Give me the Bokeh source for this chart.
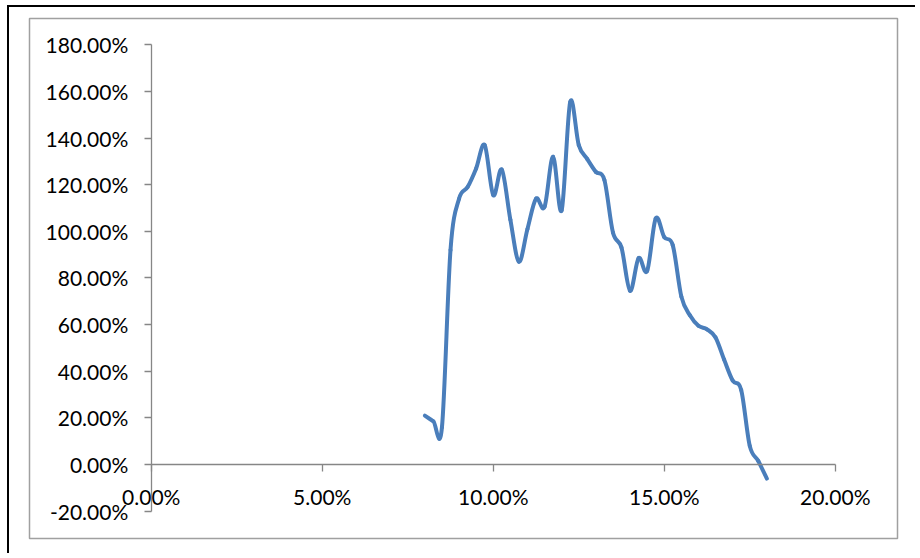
import numpy as np
from bokeh.plotting import figure
from bokeh.models import LinearAxis, Range1d, FixedTicker, PrintfTickFormatter, ColumnDataSource
from bokeh.embed import file_html
from bokeh.resources import INLINE

# Data (percent units)
rate_pct = [8.0, 8.25, 8.5, 8.75, 9.0, 9.25, 9.5, 9.75, 10.0, 10.25,
            10.5, 10.75, 11.0, 11.25, 11.5, 11.75, 12.0, 12.25, 12.5, 12.75,
            13.0, 13.25, 13.5, 13.75, 14.0, 14.25, 14.5, 14.75, 15.0, 15.25,
            15.5, 15.75, 16.0, 16.25, 16.5, 16.75, 17.0, 17.25, 17.5, 17.75, 18.0]
value_pct = [21, 18.5, 16, 92, 114, 119, 127, 137, 115.5, 126.5,
             105, 87, 101, 114, 110.5, 132, 109, 155.5, 137, 131,
             125.5, 122, 99.5, 93, 74.5, 88.5, 83, 105.5, 97.5, 94,
             72, 64, 59.5, 58, 54.5, 45, 36, 32, 8, 1.5, -6]
x_ticks = [0, 5, 10, 15, 20]
y_ticks = [-20, 0, 20, 40, 60, 80, 100, 120, 140, 160, 180]

p = figure(width=908, height=548, output_backend="svg", toolbar_location=None,
           x_range=Range1d(-3.56, 21.82), y_range=Range1d(-31.71, 191.27),
           x_axis_location=None, y_axis_location=None,
           min_border_left=20, min_border_right=20, min_border_top=11, min_border_bottom=17)
for g in p.grid:
    g.visible = False
p.outline_line_color = "#a0a0a0"
p.outline_line_width = 1.5
p.background_fill_color = "white"
p.border_fill_color = "white"
p.styles = {"margin-left": "7px", "margin-top": "5px",
            "border-left": "2px solid #000", "border-top": "2px solid #000"}

def style_axis(ax, standoff):
    ax.axis_line_color = "#868686"
    ax.axis_line_width = 1.3
    ax.major_tick_line_color = "#868686"
    ax.major_tick_line_width = 1.3
    ax.major_tick_out = 7
    ax.major_tick_in = 0
    ax.minor_tick_out = 0
    ax.minor_tick_in = 0
    ax.major_label_text_font = "Lato"
    ax.major_label_text_font_size = "21px"
    ax.major_label_text_color = "#000000"
    ax.major_label_standoff = standoff

fmt = "%.2f%%"
xaxis = LinearAxis(fixed_location=0, bounds=(0, 20), ticker=FixedTicker(ticks=x_ticks),
                   formatter=PrintfTickFormatter(format=fmt))
yaxis = LinearAxis(fixed_location=0, bounds=(-20, 180), ticker=FixedTicker(ticks=y_ticks),
                   formatter=PrintfTickFormatter(format=fmt))
style_axis(xaxis, 12)
style_axis(yaxis, 16)
p.add_layout(xaxis, "below")
p.add_layout(yaxis, "left")

# Smoothed line (Catmull-Rom style bezier segments through the data points)
xs = np.array(rate_pct, dtype=float)
ys = np.array(value_pct, dtype=float)
n = len(xs)
xp = np.concatenate([[xs[0]], xs, [xs[-1]]])
yp = np.concatenate([[ys[0]], ys, [ys[-1]]])
src = ColumnDataSource(dict(
    x0=xs[:-1], y0=ys[:-1], x1=xs[1:], y1=ys[1:],
    cx0=xp[1:n] + (xp[2:n + 1] - xp[0:n - 1]) / 6.0,
    cy0=yp[1:n] + (yp[2:n + 1] - yp[0:n - 1]) / 6.0,
    cx1=xp[2:n + 1] - (xp[3:n + 2] - xp[1:n]) / 6.0,
    cy1=yp[2:n + 1] - (yp[3:n + 2] - yp[1:n]) / 6.0,
))
p.bezier(x0="x0", y0="y0", x1="x1", y1="y1", cx0="cx0", cy0="cy0", cx1="cx1", cy1="cy1",
         source=src, line_color="#4a7ebb", line_width=4, line_cap="round")

open("out.html", "w").write(file_html(p, INLINE))
